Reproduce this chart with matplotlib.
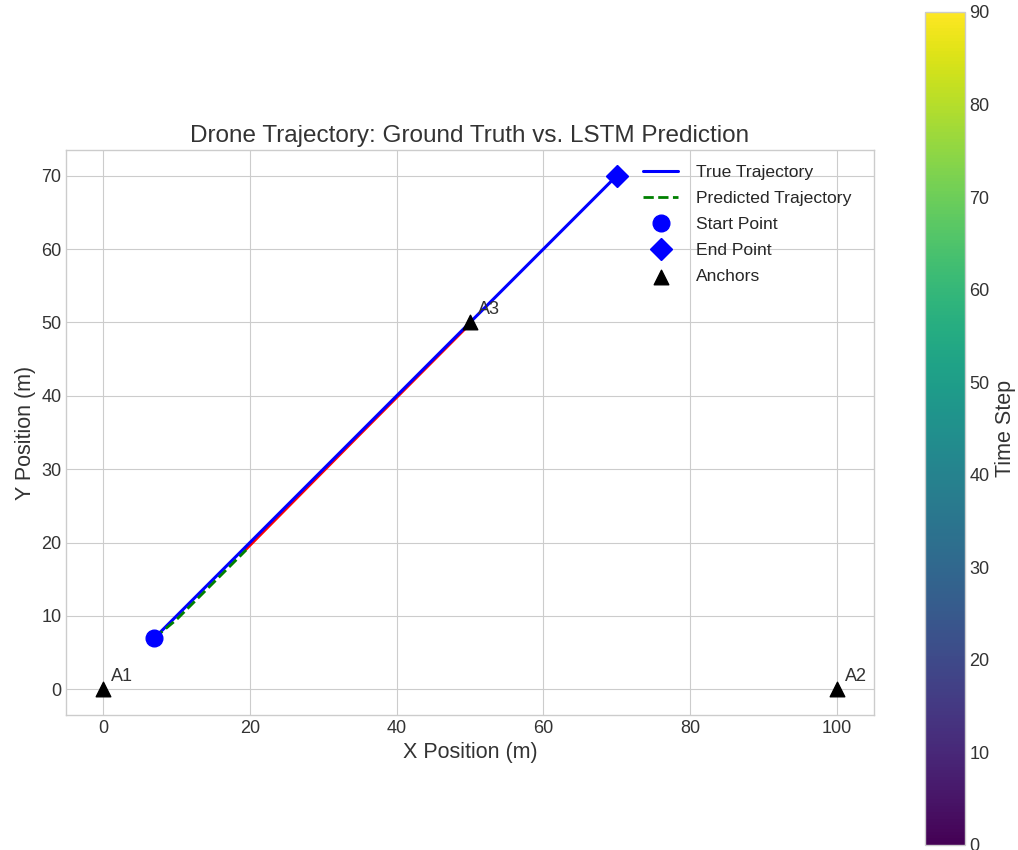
import matplotlib
matplotlib.use("Agg")
import matplotlib.pyplot as plt
import numpy as np

# data
true_x = [7, 70]
true_y = [7, 70]
pred_x = [7, 10, 14, 19.5]
pred_y = [7, 9.5, 13.5, 19]
pred_tail_x = [19.5, 35, 50]
pred_tail_y = [19.1, 34.75, 49.8]
anchor_x = [0, 100, 50]
anchor_y = [0, 0, 50]
anchor_names = ["A1", "A2", "A3"]
time_steps = [0, 90]

plt.style.use("seaborn-v0_8-whitegrid")
plt.rcParams["font.family"] = ["Liberation Sans", "DejaVu Sans"]

fig = plt.figure(figsize=(10.18, 8.5), dpi=100)
ax = fig.add_axes([0.0639, 0.1588, 0.7956, 0.6647])
cax = fig.add_axes([0.9087, 0.006, 0.039, 0.98])

ax.plot(pred_tail_x, pred_tail_y, color="red", lw=2)
ax.plot(true_x, true_y, color="blue", lw=2.2, label="True Trajectory")
ax.plot(pred_x, pred_y, color="green", lw=2, ls="--", label="Predicted Trajectory")
ax.plot(true_x[0], true_y[0], "o", color="blue", ms=12, label="Start Point", ls="none")
ax.plot(true_x[-1], true_y[-1], "D", color="blue", ms=11, label="End Point", ls="none")
ax.scatter(anchor_x, anchor_y, marker="^", color="black", s=110, label="Anchors", zorder=5)
for x, y, name in zip(anchor_x, anchor_y, anchor_names):
    ax.annotate(name, (x, y), xytext=(6, 6), textcoords="offset points", fontsize=13,
                color="#333333")

ax.set_aspect("equal")
ax.set_title("Drone Trajectory: Ground Truth vs. LSTM Prediction", fontsize=17.5, color="#333333")
ax.set_xlabel("X Position (m)", fontsize=15.5, color="#333333")
ax.set_ylabel("Y Position (m)", fontsize=15.5, color="#333333")
ax.tick_params(labelsize=13, colors="#333333")
for s in ax.spines.values():
    s.set_visible(True)
    s.set_color("#cccccc")
ax.legend(loc="upper right", fontsize=12.6, frameon=False, labelspacing=0.62,
          handletextpad=1.0, bbox_to_anchor=(0.992, 1.002))

sm = plt.cm.ScalarMappable(cmap="viridis", norm=plt.Normalize(time_steps[0], time_steps[1]))
cb = fig.colorbar(sm, cax=cax)
cb.set_label("Time Step", fontsize=15.5, color="#333333")
cb.ax.tick_params(labelsize=13, colors="#333333")
cb.outline.set_edgecolor("#cccccc")

fig.savefig("out.png", dpi=100)
